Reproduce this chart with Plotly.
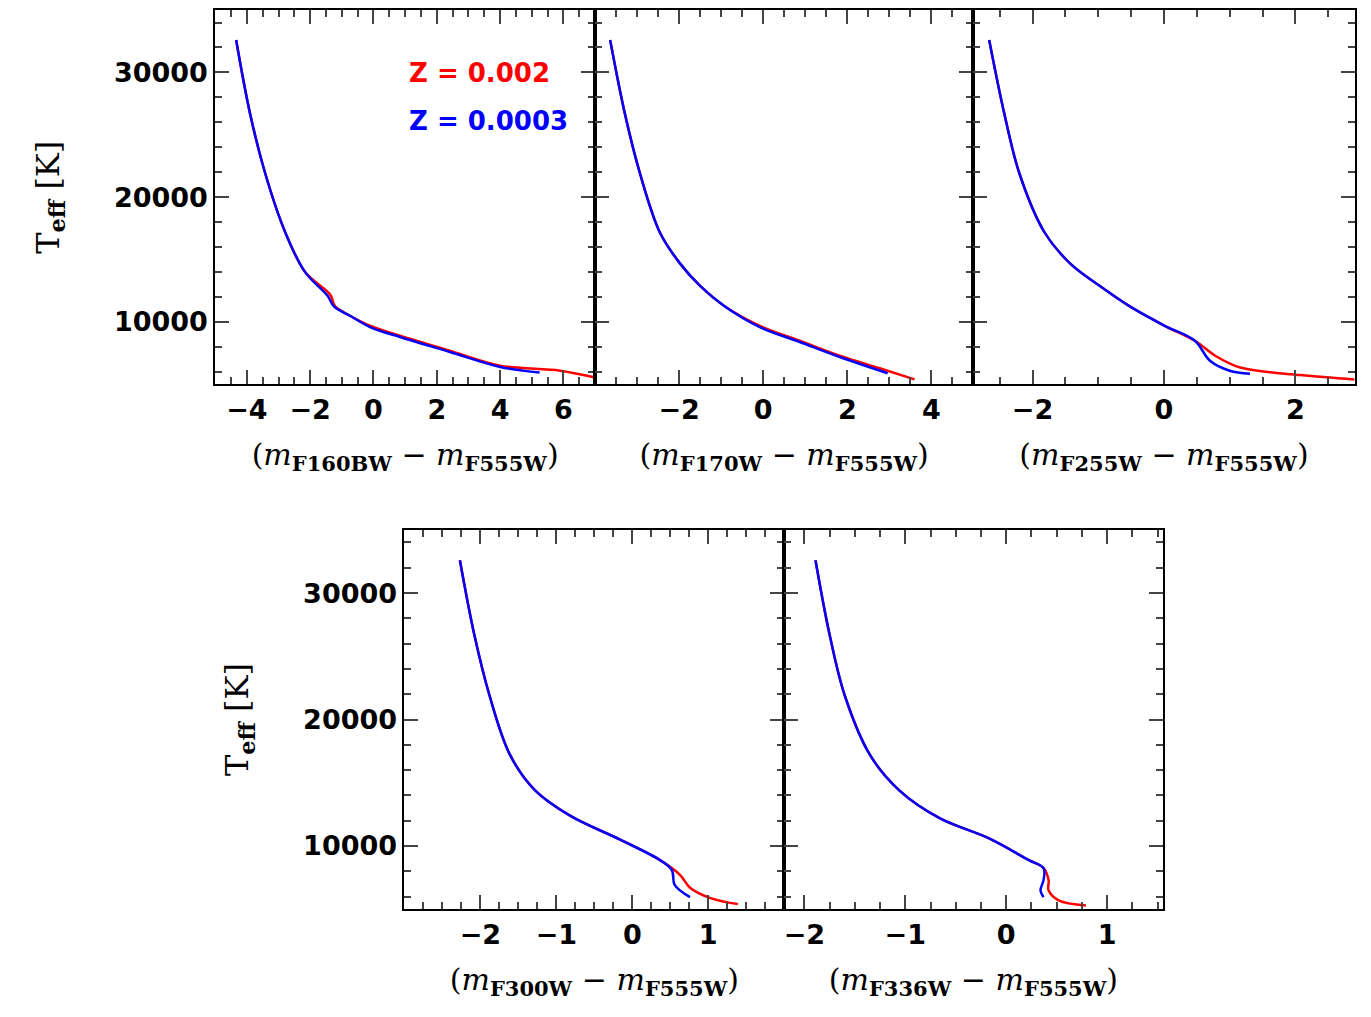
import plotly.graph_objects as go

# colour index (x) and Teff (y) per filter
f160_red_x = [-4.34, -3.9, -3.42, -2.79, -2.16, -1.37, -1.21, -0.74, -0.11, 0.84, 2.41, 4.0, 5.9, 7.0]
f160_red_y = [32600, 26700, 21900, 17200, 14000, 12200, 11250, 10500, 9700, 8900, 7700, 6500, 6100, 5550]
f160_blue_x = [-4.34, -3.9, -3.42, -2.79, -2.16, -1.45, -1.25, -0.74, -0.11, 0.84, 2.41, 4.0, 5.25]
f160_blue_y = [32600, 26700, 21900, 17200, 14000, 12100, 11250, 10500, 9600, 8800, 7600, 6400, 5950]

f170_red_x = [-3.64, -3.29, -2.93, -2.46, -1.98, -1.5, -0.91, -0.08, 0.87, 1.82, 2.77, 3.6]
f170_red_y = [32600, 26700, 21900, 17200, 14700, 12900, 11250, 9700, 8500, 7300, 6300, 5400]
f170_blue_x = [-3.64, -3.29, -2.93, -2.46, -1.98, -1.5, -0.91, -0.08, 0.87, 1.82, 2.96]
f170_blue_y = [32600, 26700, 21900, 17200, 14700, 12900, 11250, 9600, 8400, 7200, 5900]

f255_red_x = [-2.66, -2.43, -2.2, -1.82, -1.43, -0.98, -0.52, 0.01, 0.47, 0.78, 1.16, 2.08, 2.9]
f255_red_y = [32600, 26700, 21900, 17200, 14700, 12900, 11250, 9700, 8500, 7300, 6350, 5750, 5400]
f255_blue_x = [-2.66, -2.43, -2.2, -1.82, -1.43, -0.98, -0.52, 0.01, 0.47, 0.7, 1.0, 1.31]
f255_blue_y = [32600, 26700, 21900, 17200, 14700, 12900, 11250, 9700, 8500, 6900, 6100, 5850]

f300_red_x = [-2.27, -2.08, -1.88, -1.61, -1.28, -0.82, -0.16, 0.36, 0.63, 0.76, 1.02, 1.39]
f300_red_y = [32600, 26700, 21900, 17200, 14400, 12400, 10500, 8900, 7700, 6700, 5900, 5400]
f300_blue_x = [-2.27, -2.08, -1.88, -1.61, -1.28, -0.82, -0.16, 0.36, 0.52, 0.56, 0.76]
f300_blue_y = [32600, 26700, 21900, 17200, 14400, 12400, 10500, 8900, 8100, 6900, 5950]

f336_red_x = [-1.89, -1.75, -1.6, -1.35, -1.06, -0.66, -0.17, 0.22, 0.37, 0.42, 0.42, 0.52, 0.79]
f336_red_y = [32600, 26700, 21900, 17200, 14400, 12200, 10600, 8900, 8250, 7300, 6500, 5700, 5300]
f336_blue_x = [-1.89, -1.75, -1.6, -1.35, -1.06, -0.66, -0.17, 0.22, 0.37, 0.37, 0.34, 0.37]
f336_blue_y = [32600, 26700, 21900, 17200, 14400, 12200, 10600, 8900, 8250, 7300, 6500, 5950]

# tick labels per panel
ticks160 = [-4, -2, 0, 2, 4, 6]
ticks170 = [-2, 0, 2, 4]
ticks255 = [-2, 0, 2]
ticks300 = [-2, -1, 0, 1]
ticks336 = [-2, -1, 0, 1]
y_ticks = [10000, 20000, 30000]

# page body offset of ~8px, compensate in domains
dx = 8 / 1371
dy = 8 / 1017
top = [0.622 + dy, 0.998]
bot = [0.106 + dy, 0.479 + dy]

panels = [
    (f160_red_x, f160_red_y, f160_blue_x, f160_blue_y, "F160BW", [-5, 7], ticks160, 0.5, [0.157 - dx, 0.434 - dx], top),
    (f170_red_x, f170_red_y, f170_blue_x, f170_blue_y, "F170W", [-4, 5], ticks170, 0.5, [0.434 - dx, 0.710 - dx], top),
    (f255_red_x, f255_red_y, f255_blue_x, f255_blue_y, "F255W", [-2.9, 2.9], ticks255, 0.5, [0.710 - dx, 0.988 - dx], top),
    (f300_red_x, f300_red_y, f300_blue_x, f300_blue_y, "F300W", [-3, 2], ticks300, 0.25, [0.295 - dx, 0.572 - dx], bot),
    (f336_red_x, f336_red_y, f336_blue_x, f336_blue_y, "F336W", [-2.2, 1.55], ticks336, 0.25, [0.572 - dx, 0.848 - dx], bot),
]

font = dict(family="DejaVu Sans", size=27, color="black")
fig = go.Figure()
layout = {}
for i, (rx, ry, bx, by, name, xr, tv, mdt, xd, yd) in enumerate(panels, start=1):
    sfx = "" if i == 1 else str(i)
    fig.add_trace(go.Scatter(x=rx, y=ry, mode="lines", line=dict(color="red", width=2.5, shape="spline"),
                             xaxis="x" + sfx, yaxis="y" + sfx, showlegend=False))
    fig.add_trace(go.Scatter(x=bx, y=by, mode="lines", line=dict(color="blue", width=2.5, shape="spline"),
                             xaxis="x" + sfx, yaxis="y" + sfx, showlegend=False))
    common = dict(showgrid=False, zeroline=False, mirror="allticks", ticks="inside", showline=True,
                  linecolor="black", linewidth=2, tickwidth=2, ticklen=14, tickfont=font, automargin=False)
    layout["xaxis" + sfx] = dict(common, domain=xd, range=xr, tickmode="array", tickvals=tv,
                                 ticktext=[f"<b>{v}</b>".replace("-", "−") for v in tv], anchor="y" + sfx,
                                 minor=dict(ticks="inside", ticklen=7, tickwidth=2, dtick=mdt),
                                 title=dict(text=f"(<i>m</i><sub><b>{name}</b></sub> − <i>m</i><sub><b>F555W</b></sub>)",
                                            font=dict(family="DejaVu Serif", size=30), standoff=20))
    left = i in (1, 4)
    layout["yaxis" + sfx] = dict(common, domain=yd, range=[5000, 35000], tickmode="array", tickvals=y_ticks,
                                 ticktext=[f"<b>{v}</b>" for v in y_ticks], anchor="x" + sfx,
                                 showticklabels=left,
                                 minor=dict(ticks="inside", ticklen=7, tickwidth=2, dtick=2000),
                                 title=dict(text="T<sub><b>eff</b></sub> [K]" if left else "",
                                            font=dict(family="DejaVu Serif", size=32), standoff=45))

fig.update_layout(**layout)
fig.update_layout(width=1371, height=1017, margin=dict(l=0, r=0, t=0, b=0),
                  plot_bgcolor="white", paper_bgcolor="white", font=font)
fig.add_annotation(x=0.397, y=0.945 + dy, xref="paper", yref="paper", xanchor="right", showarrow=False,
                   text="<b>Z = 0.002</b>", font=dict(family="DejaVu Sans", size=26, color="red"))
fig.add_annotation(x=0.41, y=0.898 + dy, xref="paper", yref="paper", xanchor="right", showarrow=False,
                   text="<b>Z = 0.0003</b>", font=dict(family="DejaVu Sans", size=26, color="blue"))
fig.write_html("out.html")
